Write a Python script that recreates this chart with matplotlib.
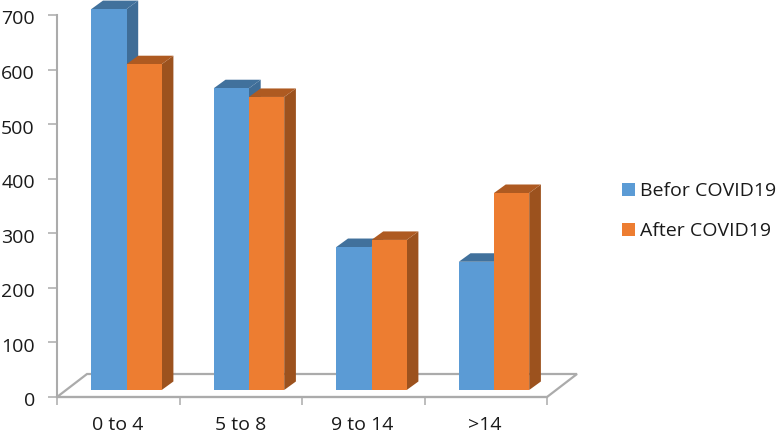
import matplotlib
matplotlib.use("Agg")
import matplotlib.pyplot as plt
from matplotlib.patches import Polygon, Patch
from matplotlib.transforms import ScaledTranslation

categories = ["0 to 4", "5 to 8", "9 to 14", ">14"]
before = [698, 553, 262, 235]
after = [597, 537, 275, 361]
y_ticks = [0, 100, 200, 300, 400, 500, 600, 700]
labels = ["Befor COVID19", "After COVID19"]

W, H = 779, 433
plt.rcParams['font.family'] = ['Open Sans', 'DejaVu Sans']
fig = plt.figure(figsize=(W / 100, H / 100), dpi=100)
L, R, B, T = 57, 547, 397, 15
ax = fig.add_axes([L / W, 1 - B / H, (R - L) / W, (B - T) / H])
ax.set_xlim(0, len(categories))
ax.set_ylim(0, 700)

px_x = len(categories) / (R - L)
px_y = 700 / (B - T)
BLUE, BLUE_SIDE, BLUE_TOP = "#5B9BD5", "#3F6D97", "#41719C"
ORANGE, ORANGE_SIDE, ORANGE_TOP = "#ED7D31", "#9C521E", "#AE5A21"
GRAY = "#ABABAB"

# floor
fdx, fdy = 30 * px_x, 23 * px_y
ax.add_patch(Polygon([(0, 0), (4, 0), (4 + fdx, fdy), (fdx, fdy)], closed=True,
                     fc="white", ec=GRAY, lw=1.6, clip_on=False, zorder=1))

bar_w = 35.2 * px_x
first = 34.3 * px_x
floor = 7 * px_y
dx, dy = 11.7 * px_x, 8.5 * px_y


def bar3d(x, v, front, side, top, z):
    y0, y1 = floor, floor + v
    ax.bar(x, v, width=bar_w, bottom=y0, align="edge", color=front, lw=0,
           clip_on=False, zorder=z + 0.2)
    ax.add_patch(Polygon([(x + bar_w, y0), (x + bar_w + dx, y0 + dy),
                          (x + bar_w + dx, y1 + dy), (x + bar_w, y1)], closed=True,
                         fc=side, ec="none", clip_on=False, zorder=z))
    ax.add_patch(Polygon([(x, y1), (x + bar_w, y1), (x + bar_w + dx, y1 + dy),
                          (x + dx, y1 + dy)], closed=True,
                         fc=top, ec="none", clip_on=False, zorder=z + 0.1))


for i, (b, a) in enumerate(zip(before, after)):
    bar3d(i + first, b, BLUE, BLUE_SIDE, BLUE_TOP, 2 + i)
    bar3d(i + first + bar_w, a, ORANGE, ORANGE_SIDE, ORANGE_TOP, 2.5 + i)

for s in ["top", "right"]:
    ax.spines[s].set_visible(False)
for s in ["left", "bottom"]:
    ax.spines[s].set_color(GRAY)
    ax.spines[s].set_linewidth(1.5)
    ax.spines[s].set_zorder(1.5)

ax.set_yticks(y_ticks)
ax.set_xticks(range(len(categories) + 1))
ax.set_xticklabels([""] * (len(categories) + 1))
ax.tick_params(axis="y", length=6.5, width=1.1, color=GRAY, labelsize=14, pad=9.5, labelcolor="#1a1a1a")
ax.tick_params(axis="x", length=5.5, width=1.1, color=GRAY)
shift = ScaledTranslation(0, -3.2 / 72, fig.dpi_scale_trans)
for lbl in ax.get_yticklabels():
    lbl.set_verticalalignment("center")
    lbl.set_transform(lbl.get_transform() + shift)
for i, c in enumerate(categories):
    ax.annotate(c, (i + 0.495, 0), xytext=(0, -28.5 * 0.72), textcoords="offset points",
                ha="center", va="center", fontsize=14, color="#1a1a1a", annotation_clip=False)

handles = [Patch(fc=BLUE, ec="none"), Patch(fc=ORANGE, ec="none")]
fig.legend(handles, labels, loc="upper left", bbox_to_anchor=(622 / W, 1 - 182 / H),
           frameon=False, fontsize=14, handlelength=0.65, handleheight=0.65,
           handletextpad=0.3, labelspacing=1.15, borderpad=0, borderaxespad=0,
           labelcolor="#1a1a1a")

fig.savefig("out.png", dpi=100)
